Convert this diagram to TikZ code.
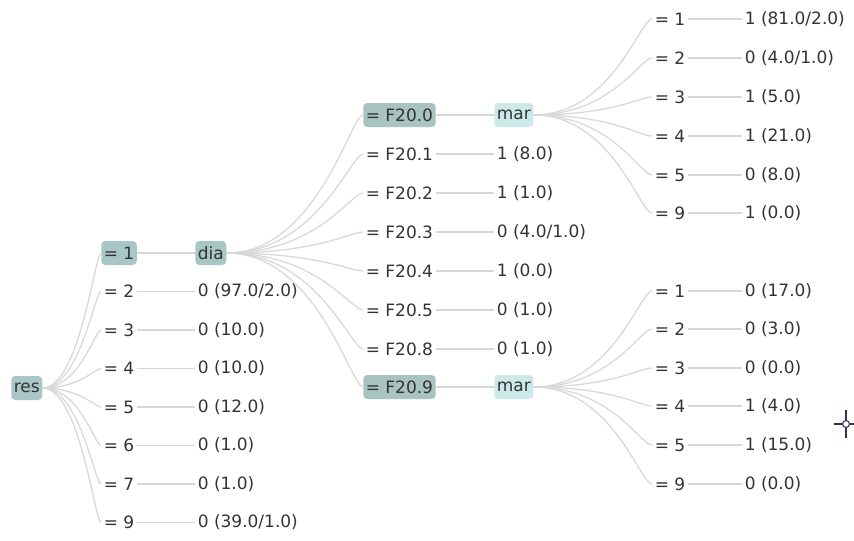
\documentclass[tikz,border=0pt]{standalone}
\usepackage{fontspec}
\setmainfont{DejaVu Sans}
\usepackage{xcolor}
\definecolor{rootteal}{HTML}{A8C6C6}
\definecolor{splitteal}{HTML}{A9C3C3}
\definecolor{marteal}{HTML}{CCE8E8}
\definecolor{linkgray}{HTML}{D8D8D8}
\definecolor{txtgray}{HTML}{333333}
\definecolor{cursorblue}{HTML}{2B3550}
\usetikzlibrary{positioning}

\begin{document}
\begin{tikzpicture}[
  x=0.75pt, y=-0.75pt,
  font=\fontsize{12.75}{14}\selectfont,
  every node/.style={text=txtgray, anchor=west, inner xsep=1.9pt,
                     inner ysep=0pt, minimum height=18pt},
  hl/.style={fill=rootteal, rounded corners=3pt},
  hlsplit/.style={fill=splitteal, rounded corners=3pt},
  hlmar/.style={fill=marteal, rounded corners=3pt},
  link/.style={draw=linkgray, line width=0.95pt}
]
\useasboundingbox (0,0) rectangle (854,540);

% root and first split
\node[hl] (res) at (11,388) {res};
\node[hl] (r1) at (101,253)   {= 1};
\node (r2) at (101,291.5) {= 2};
\node (r3) at (101,330)   {= 3};
\node (r4) at (101,368.5) {= 4};
\node (r5) at (101,407)   {= 5};
\node (r6) at (101,445.5) {= 6};
\node (r7) at (101,484)   {= 7};
\node (r9) at (101,522.5) {= 9};

\node[hl] (dia) at (195,253) {dia};
\node (o2) at (195,291.5) {0 (97.0/2.0)};
\node (o3) at (195,330)   {0 (10.0)};
\node (o4) at (195,368.5) {0 (10.0)};
\node (o5) at (195,407)   {0 (12.0)};
\node (o6) at (195,445.5) {0 (1.0)};
\node (o7) at (195,484)   {0 (1.0)};
\node (o9) at (195,522.5) {0 (39.0/1.0)};

% dia split
\node[hlsplit] (f0) at (363,115) {= F20.0};
\node (f1) at (363,154) {= F20.1};
\node (f2) at (363,193) {= F20.2};
\node (f3) at (363,232) {= F20.3};
\node (f4) at (363,271) {= F20.4};
\node (f5) at (363,310) {= F20.5};
\node (f8) at (363,349) {= F20.8};
\node[hlsplit] (f9) at (363,387) {= F20.9};

\node[hlmar] (marA) at (494,115) {mar};
\node (g1) at (494,154) {1 (8.0)};
\node (g2) at (494,193) {1 (1.0)};
\node (g3) at (494,232) {0 (4.0/1.0)};
\node (g4) at (494,271) {1 (0.0)};
\node (g5) at (494,310) {0 (1.0)};
\node (g8) at (494,349) {0 (1.0)};
\node[hlmar] (marB) at (494,387) {mar};

% mar under F20.0
\node (a1) at (652,19)  {= 1};
\node (a2) at (652,58)  {= 2};
\node (a3) at (652,97)  {= 3};
\node (a4) at (652,136) {= 4};
\node (a5) at (652,175) {= 5};
\node (a9) at (652,213) {= 9};
\node (pa1) at (742,19)  {1 (81.0/2.0)};
\node (pa2) at (742,58)  {0 (4.0/1.0)};
\node (pa3) at (742,97)  {1 (5.0)};
\node (pa4) at (742,136) {1 (21.0)};
\node (pa5) at (742,175) {0 (8.0)};
\node (pa9) at (742,213) {1 (0.0)};

% mar under F20.9
\node (b1) at (652,291) {= 1};
\node (b2) at (652,329) {= 2};
\node (b3) at (652,368) {= 3};
\node (b4) at (652,406) {= 4};
\node (b5) at (652,445) {= 5};
\node (b9) at (652,484) {= 9};
\node (pb1) at (742,291) {0 (17.0)};
\node (pb2) at (742,329) {0 (3.0)};
\node (pb3) at (742,368) {0 (0.0)};
\node (pb4) at (742,406) {1 (4.0)};
\node (pb5) at (742,445) {1 (15.0)};
\node (pb9) at (742,484) {0 (0.0)};

% fans
\draw[link] (res.east) .. controls +(37,0) and +(-6,0) .. (r1.west);
\draw[link] (res.east) .. controls +(37,0) and +(-6,0) .. (r2.west);
\draw[link] (res.east) .. controls +(37,0) and +(-6,0) .. (r3.west);
\draw[link] (res.east) .. controls +(37,0) and +(-6,0) .. (r4.west);
\draw[link] (res.east) .. controls +(37,0) and +(-6,0) .. (r5.west);
\draw[link] (res.east) .. controls +(37,0) and +(-6,0) .. (r6.west);
\draw[link] (res.east) .. controls +(37,0) and +(-6,0) .. (r7.west);
\draw[link] (res.east) .. controls +(37,0) and +(-6,0) .. (r9.west);

\draw[link] (dia.east) .. controls +(90,0) and +(-12,0) .. (f0.west);
\draw[link] (dia.east) .. controls +(90,0) and +(-12,0) .. (f1.west);
\draw[link] (dia.east) .. controls +(90,0) and +(-12,0) .. (f2.west);
\draw[link] (dia.east) .. controls +(90,0) and +(-12,0) .. (f3.west);
\draw[link] (dia.east) .. controls +(90,0) and +(-12,0) .. (f4.west);
\draw[link] (dia.east) .. controls +(90,0) and +(-12,0) .. (f5.west);
\draw[link] (dia.east) .. controls +(90,0) and +(-12,0) .. (f8.west);
\draw[link] (dia.east) .. controls +(90,0) and +(-12,0) .. (f9.west);

\draw[link] (marA.east) .. controls +(78,0) and +(-12,0) .. (a1.west);
\draw[link] (marA.east) .. controls +(78,0) and +(-12,0) .. (a2.west);
\draw[link] (marA.east) .. controls +(78,0) and +(-12,0) .. (a3.west);
\draw[link] (marA.east) .. controls +(78,0) and +(-12,0) .. (a4.west);
\draw[link] (marA.east) .. controls +(78,0) and +(-12,0) .. (a5.west);
\draw[link] (marA.east) .. controls +(78,0) and +(-12,0) .. (a9.west);

\draw[link] (marB.east) .. controls +(78,0) and +(-12,0) .. (b1.west);
\draw[link] (marB.east) .. controls +(78,0) and +(-12,0) .. (b2.west);
\draw[link] (marB.east) .. controls +(78,0) and +(-12,0) .. (b3.west);
\draw[link] (marB.east) .. controls +(78,0) and +(-12,0) .. (b4.west);
\draw[link] (marB.east) .. controls +(78,0) and +(-12,0) .. (b5.west);
\draw[link] (marB.east) .. controls +(78,0) and +(-12,0) .. (b9.west);

% straight links
\draw[link] (r1) -- (dia);
\draw[link] (r2) -- (o2);
\draw[link] (r3) -- (o3);
\draw[link] (r4) -- (o4);
\draw[link] (r5) -- (o5);
\draw[link] (r6) -- (o6);
\draw[link] (r7) -- (o7);
\draw[link] (r9) -- (o9);
\draw[link] (f0) -- (marA);
\draw[link] (f1) -- (g1);
\draw[link] (f2) -- (g2);
\draw[link] (f3) -- (g3);
\draw[link] (f4) -- (g4);
\draw[link] (f5) -- (g5);
\draw[link] (f8) -- (g8);
\draw[link] (f9) -- (marB);
\draw[link] (a1) -- (pa1);
\draw[link] (a2) -- (pa2);
\draw[link] (a3) -- (pa3);
\draw[link] (a4) -- (pa4);
\draw[link] (a5) -- (pa5);
\draw[link] (a9) -- (pa9);
\draw[link] (b1) -- (pb1);
\draw[link] (b2) -- (pb2);
\draw[link] (b3) -- (pb3);
\draw[link] (b4) -- (pb4);
\draw[link] (b5) -- (pb5);
\draw[link] (b9) -- (pb9);

% pointer
\draw[cursorblue, line width=0.8pt] (846,424) circle[radius=2.6pt];
\draw[cursorblue, line width=0.8pt] (846,410) -- (846,420.5) (846,427.5) -- (846,438)
  (834,424) -- (842.5,424) (849.5,424) -- (856,424);
\end{tikzpicture}
\end{document}
